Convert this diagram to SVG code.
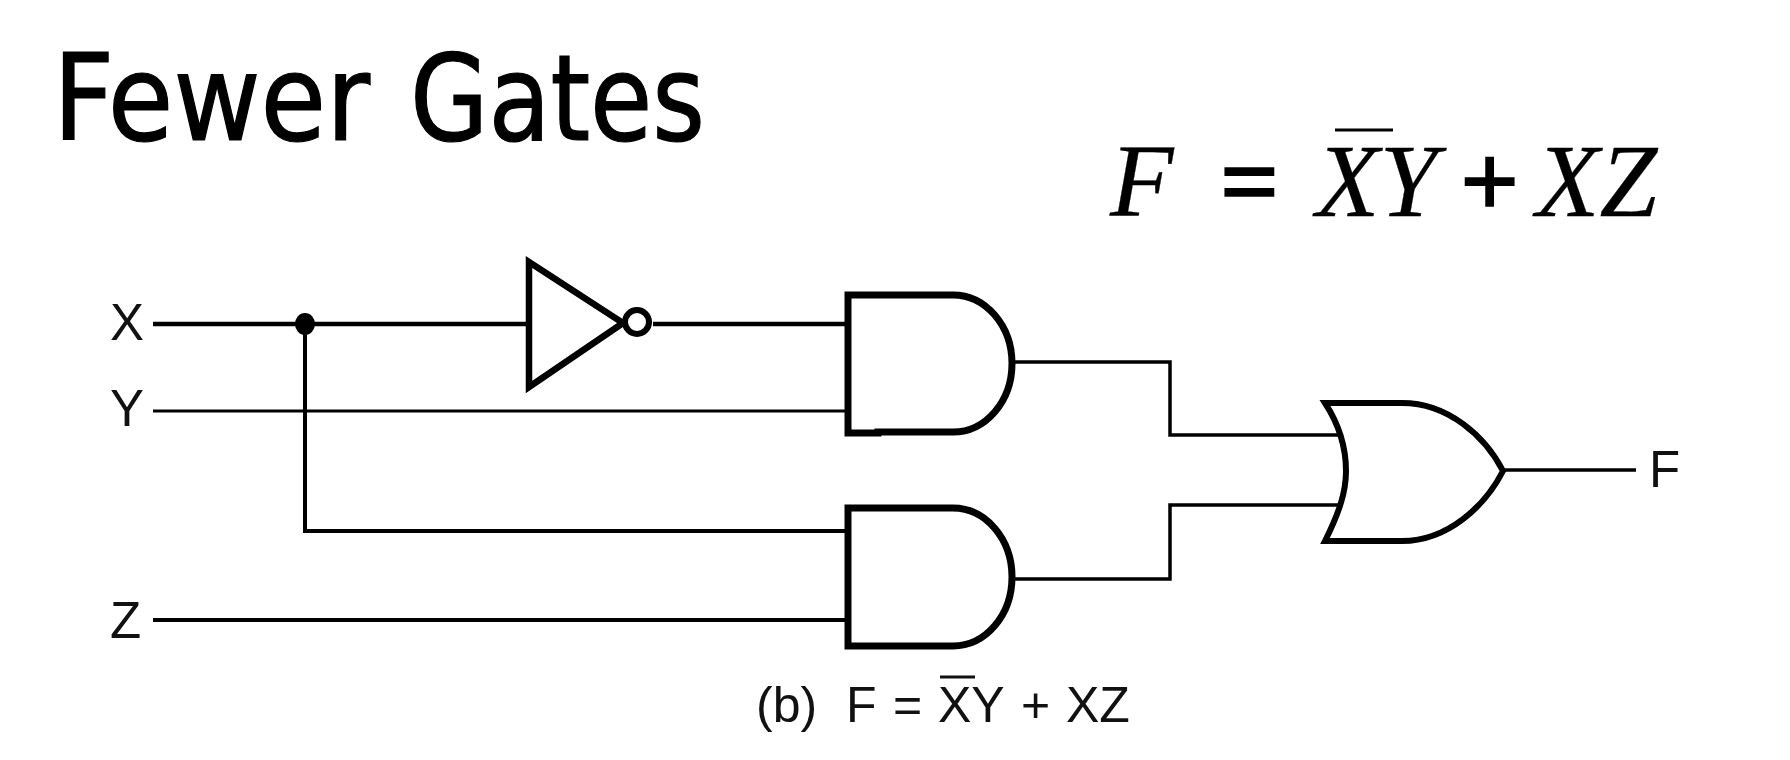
<svg xmlns="http://www.w3.org/2000/svg" width="1790" height="760" viewBox="0 0 1790 760">
<style>
.g{fill:#fff;stroke:#000;stroke-width:7;stroke-linejoin:miter}
.w{fill:none;stroke:#000;stroke-width:3.5}
.l{font-family:"Liberation Sans",Arial,sans-serif;font-size:51px;fill:#111}
.c{font-family:"Liberation Sans",Arial,sans-serif;font-size:50px;fill:#111}
.m{font-family:"Liberation Serif","Times New Roman",serif;font-size:104px;font-style:italic;fill:#000;stroke:#000;stroke-width:.3}
.b{font-family:"Liberation Serif","Times New Roman",serif;font-size:104px;font-weight:bold;fill:#000;stroke:#000;stroke-width:1.5}
.t{font-family:"DejaVu Sans Condensed","DejaVu Sans",sans-serif;font-stretch:condensed;font-size:119px;fill:#000;stroke:#000;stroke-width:1.2}
</style>
<rect width="1790" height="760" fill="#fff"/>
<g id="connectors">
<path class="w" d="M153,324H526" style="stroke-width:4.5"/>
<path class="w" d="M653,324H845" style="stroke-width:4.5"/>
<path class="w" d="M153,411H845" style="stroke-width:3"/>
<path class="w" d="M305,324V531H845" style="stroke-width:4"/>
<path class="w" d="M153,620H845" style="stroke-width:4"/>
<path class="w" d="M1013,362H1170V435H1338"/>
<path class="w" d="M1013,579H1170V505H1338"/>
<path class="w" d="M1503,470H1636"/>
<ellipse cx="305" cy="324" rx="10" ry="11" fill="#000"/>
</g>
<g id="title"><text class="t" y="140"><tspan x="53" textLength="317" lengthAdjust="spacingAndGlyphs">Fewer</tspan> <tspan x="410" textLength="295" lengthAdjust="spacingAndGlyphs">Gates</tspan></text></g>
<g id="equation">
<text class="m" x="1110" y="216">F</text>
<text class="b" x="1220" y="216">=</text>
<text class="m" x="1316" y="216">XY</text>
<text class="b" x="1460" y="216">+</text>
<text class="m" x="1536" y="216">XZ</text>
<path d="M1335,130H1393" stroke="#000" stroke-width="3"/>
</g>
<g id="input-x"><text class="l" x="110" y="340">X</text></g>
<g id="input-y"><text class="l" x="110" y="426">Y</text></g>
<g id="input-z"><text class="l" x="110" y="638">Z</text></g>
<g id="output-f"><text class="l" x="1649" y="487">F</text></g>
<g id="inverter">
<path class="g" d="M529,262L623,323L529,387Z" style="stroke-width:6.5"/>
<circle class="g" cx="637" cy="322" r="12" style="stroke-width:6"/>
</g>
<g id="and-1"><path class="g" d="M848,295H953A59,68.5 0 0 1 953,432H878V433H848Z"/></g>
<g id="and-2"><path class="g" d="M848,508H953A59,69 0 0 1 953,646H848Z"/></g>
<g id="or"><path class="g" d="M1325,403H1402C1448,403 1485,436 1503,471C1485,506 1448,541 1402,541H1325C1340,511 1346,491 1346,471C1346,451 1340,426 1325,403Z" style="stroke-width:6"/></g>
<g id="caption">
<text class="c" x="756" y="722">(b)</text>
<text class="c" x="846" y="722">F</text>
<text class="c" x="893" y="722">=</text>
<text class="c" x="938" y="722">XY</text>
<text class="c" x="1021" y="722">+</text>
<text class="c" x="1066" y="722">XZ</text>
<path d="M940,677H975" stroke="#111" stroke-width="3"/>
</g>
</svg>
